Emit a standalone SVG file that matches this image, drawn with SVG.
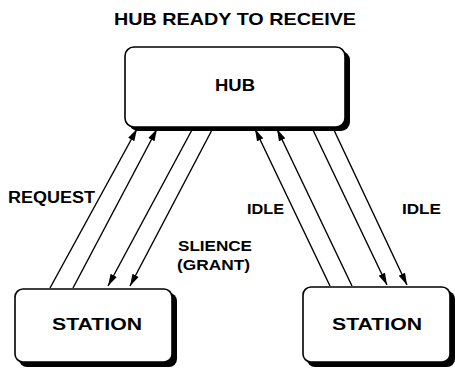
<svg xmlns="http://www.w3.org/2000/svg" width="455" height="371" viewBox="0 0 455 371">
<style>
.box{fill:#fff;stroke:#000;stroke-width:1.6}
.sh{fill:#000}
.t{font-family:"Liberation Sans",Arial,sans-serif;font-weight:bold;fill:#000}
.c{stroke:#000;stroke-width:1.4;fill:none;marker-end:url(#ah)}
</style>
<defs>
<marker id="ah" markerUnits="userSpaceOnUse" markerWidth="13" markerHeight="8" refX="12" refY="4" orient="auto">
<path d="M0,0.5 L12,4 L0,7.5 z" fill="#000"/>
</marker>
</defs>
<text class="t" x="235" y="25" font-size="17" text-anchor="middle" textLength="242" lengthAdjust="spacingAndGlyphs">HUB READY TO RECEIVE</text>
<g id="hub">
<rect class="sh" x="129" y="51" width="221" height="80" rx="9"/>
<rect class="box" x="125" y="47" width="220" height="80" rx="9"/>
<text class="t" x="235" y="91" font-size="17" text-anchor="middle" textLength="40" lengthAdjust="spacingAndGlyphs">HUB</text>
</g>
<g id="station-left">
<rect class="sh" x="19" y="293" width="158" height="74" rx="8"/>
<rect class="box" x="15" y="289" width="157" height="73" rx="8"/>
<text class="t" x="97" y="330" font-size="16" text-anchor="middle" textLength="90" lengthAdjust="spacingAndGlyphs">STATION</text>
</g>
<g id="station-right">
<rect class="sh" x="307" y="291" width="148" height="76" rx="8"/>
<rect class="box" x="303" y="287" width="147" height="75" rx="8"/>
<text class="t" x="377" y="330" font-size="16" text-anchor="middle" textLength="90" lengthAdjust="spacingAndGlyphs">STATION</text>
</g>
<g id="connectors">
<line class="c" x1="50" y1="288" x2="137" y2="129"/>
<line class="c" x1="73" y1="288" x2="157" y2="129"/>
<line class="c" x1="193" y1="128" x2="108" y2="286"/>
<line class="c" x1="213" y1="128" x2="130" y2="286"/>
<line class="c" x1="330" y1="286" x2="255" y2="129"/>
<line class="c" x1="352" y1="286" x2="277" y2="129"/>
<line class="c" x1="312" y1="128" x2="387" y2="285"/>
<line class="c" x1="333" y1="128" x2="407" y2="285"/>
</g>
<g id="labels">
<text class="t" x="8" y="203" font-size="16" textLength="87" lengthAdjust="spacingAndGlyphs">REQUEST</text>
<text class="t" x="178" y="251" font-size="15" textLength="74" lengthAdjust="spacingAndGlyphs">SLIENCE</text>
<text class="t" x="177" y="270" font-size="15" textLength="73" lengthAdjust="spacingAndGlyphs">(GRANT)</text>
<text class="t" x="247" y="214" font-size="15" textLength="37" lengthAdjust="spacingAndGlyphs">IDLE</text>
<text class="t" x="402" y="214" font-size="15" textLength="39" lengthAdjust="spacingAndGlyphs">IDLE</text>
</g>
</svg>
